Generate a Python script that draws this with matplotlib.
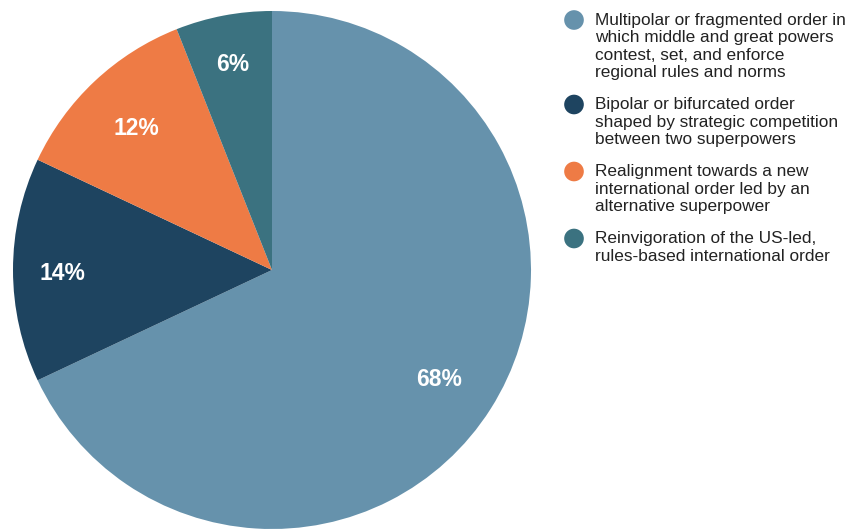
import matplotlib.pyplot as plt

plt.rcParams['font.family'] = ['Liberation Sans', 'DejaVu Sans']

# Survey shares for each scenario
labels = [
    "Multipolar or fragmented order in\nwhich middle and great powers\ncontest, set, and enforce\nregional rules and norms",
    "Bipolar or bifurcated order\nshaped by strategic competition\nbetween two superpowers",
    "Realignment towards a new\ninternational order led by an\nalternative superpower",
    "Reinvigoration of the US-led,\nrules-based international order",
]
shares = [68, 14, 12, 6]
colors = ["#6692ac", "#1e4460", "#ee7b45", "#3b7280"]

W, H = 846, 531
fig = plt.figure(figsize=(W / 100, H / 100), dpi=100)

# pie axes: centre (272, 270) px, radius 259 px
cx, cy, r = 272, 270, 259
ax = fig.add_axes([(cx - r) / W, (H - cy - r) / H, 2 * r / W, 2 * r / H])
wedges, texts, autotexts = ax.pie(
    shares, colors=colors, startangle=90, counterclock=False,
    autopct=lambda p: f"{p:.0f}%", pctdistance=0.78,
    textprops=dict(color="white", fontsize=16.5, fontweight="bold"),
    wedgeprops=dict(linewidth=0),
)
# nudge each percentage label along its wedge's bisector
for t, d in zip(autotexts, [0.765, 0.81, 0.765, 0.82]):
    x, y = t.get_position()
    k = d / 0.78
    t.set_position((x * k, y * k - 0.012))
ax.set_aspect("equal")
ax.set_xlim(-1, 1)
ax.set_ylim(-1, 1)

# legend drawn in pixel coordinates
lg = fig.add_axes([0, 0, 1, 1], facecolor="none")
lg.set_xlim(0, W)
lg.set_ylim(H, 0)
lg.axis("off")
line_h = 17.5
gap = 14.5
y = 20
for lab, c in zip(labels, colors):
    lg.scatter(574, y, s=200, color=c, edgecolors="none")
    lg.text(595, y - 7.5, lab, va="top", ha="left", fontsize=12.4,
            color="#222222", linespacing=1.22)
    y += lab.count("\n") * line_h + line_h + gap

fig.savefig("out.png", dpi=100)
